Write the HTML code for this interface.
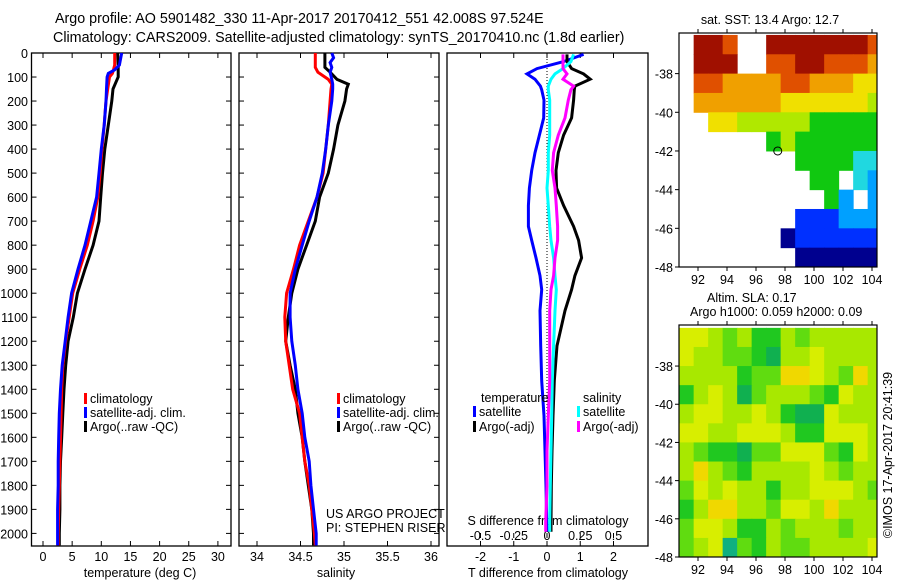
<!DOCTYPE html>
<html><head><meta charset="utf-8"><style>
body{margin:0;background:#fff}
svg{display:block;font-family:"Liberation Sans",sans-serif;font-size:12.5px}
.big{font-size:14.3px}
</style></head><body>
<svg id="c" width="900" height="580" viewBox="0 0 900 580">
<text class="big" x="55" y="23">Argo profile: AO 5901482_330 11-Apr-2017 20170412_551 42.008S 97.524E</text>
<text class="big" x="53" y="42">Climatology: CARS2009. Satellite-adjusted climatology: synTS_20170410.nc (1.8d earlier)</text>
<g id="g"></g>
</svg>
<script>
const depthT=[0,50,70,85,100,150,200,300,400,500,600,700,800,900,1000,1100,1200,1300,1400,1500,1600,1700,1800,1900,2000,2050];
const tempArgo=[12.8,12.9,12.9,12.9,12.9,12.0,11.8,11.2,10.6,10.2,9.9,9.6,8.6,7.2,5.9,5.2,4.3,3.9,3.6,3.4,3.2,3.0,2.9,2.9,2.8,2.8];
const tempClim=[12.3,12.3,12.1,11.9,11.4,11.1,10.8,10.5,10.1,9.8,9.4,8.6,7.6,6.3,5.1,4.5,3.9,3.4,3.2,3.1,3.0,2.9,2.8,2.7,2.6,2.6];
const tempSat=[13.5,13.1,12.3,11.2,11.0,10.9,10.8,10.5,10.0,9.6,9.2,8.2,7.2,6.0,4.9,4.3,3.8,3.3,3.0,2.8,2.7,2.6,2.6,2.5,2.5,2.5];
const depthS=[0,20,40,60,80,110,130,150,200,300,400,500,600,700,800,900,1000,1100,1200,1300,1400,1500,1600,1700,1800,1900,2000,2050];
const salArgo=[34.78,34.78,34.78,34.78,34.84,34.92,35.05,35.03,35.01,34.93,34.88,34.82,34.72,34.67,34.57,34.47,34.40,34.36,34.33,34.38,34.44,34.47,34.52,34.55,34.59,34.63,34.65,34.65];
const salClim=[34.67,34.67,34.67,34.67,34.70,34.82,34.86,34.85,34.84,34.82,34.79,34.76,34.69,34.59,34.49,34.42,34.34,34.32,34.33,34.37,34.41,34.49,34.52,34.55,34.60,34.63,34.66,34.67];
const salSat=[34.86,34.88,34.84,34.86,34.84,34.86,34.87,34.87,34.86,34.82,34.79,34.75,34.69,34.60,34.52,34.44,34.38,34.38,34.40,34.44,34.47,34.52,34.55,34.60,34.62,34.65,34.68,34.68];
const depthD=[6,36,65,87,109,138,153,196,270,342,415,489,562,635,722,780,853,927,985,1073,1219,1365,1511,1657,1803,1949,1993];
const dTsat=[1.1,0.5,-0.3,-0.6,-0.36,-0.2,-0.16,-0.09,-0.1,-0.23,-0.36,-0.46,-0.53,-0.56,-0.56,-0.46,-0.33,-0.21,-0.16,-0.21,-0.19,-0.16,-0.09,-0.06,-0.03,-0.01,0];
const dTargo=[0.6,0.6,0.74,1.1,1.3,0.84,0.82,0.8,0.74,0.5,0.34,0.27,0.29,0.5,0.8,0.95,1.04,0.84,0.74,0.54,0.3,0.22,0.18,0.15,0.13,0.12,0.12];
const dSsat=[0.2,0.18,0.12,0.06,0.03,0.01,0.01,0.02,0.02,0.02,0.01,0.01,0.0,0.01,0.02,0.03,0.05,0.06,0.07,0.06,0.05,0.04,0.035,0.03,0.025,0.02,0.02];
const dSargo=[0.12,0.12,0.12,0.15,0.12,0.2,0.18,0.16,0.135,0.085,0.05,0.04,0.06,0.07,0.08,0.08,0.06,0.05,0.03,0.02,0.02,0.02,0.01,0.0,0.0,-0.01,-0.01];
const depthTicks=[0,100,200,300,400,500,600,700,800,900,1000,1100,1200,1300,1400,1500,1600,1700,1800,1900,2000];
const tempTicks=[0,5,10,15,20,25,30];
const salTicks=[34,34.5,35,35.5,36];
const dTTicks=[-2,-1,0,1,2];
const dSTicks=[-0.5,-0.25,0,0.25,0.5];
const dSLabels=["-0.5","-0.25","0","0.25","0.5"];
const lonTicks=[92,94,96,98,100,102,104];
const latTicks=[-38,-40,-42,-44,-46,-48];
// SST map classes (0 navy .. 9 dark red, '.' missing), rows lat -36..-48, cols lon 90.7..
const sstRows=[".998..99999998",".999..88998887",".8877778877766",".7777776666665","..665555544444","......45444444","........444433",".........44.32","..........42.2","........111222",".......0111111","........000000"];
const slaRows=["66545335455555","65544325565555","55553447765475","35652455543655","56655653226555","66556665336665","54332446664365","57543555565455","46565535566654","35775546657555","46653354555455","45614354455556"];
const sstPalette=["#00008f","#0030ff","#00a0ff","#20d8e0","#10c810","#b0e800","#f0e000","#f0a000","#e05000","#a01000"];
const slaPalette=["#00c8c8","#10b080","#10b050","#20c820","#60dc10","#a8e800","#d8ee00","#f0d800","#f0c000"];

const NS='http://www.w3.org/2000/svg';
const G=document.getElementById('g');
function mk(t,a,p){const e=document.createElementNS(NS,t);for(const k in a)e.setAttribute(k,a[k]);(p||G).appendChild(e);return e;}
const Y0=53,YS=0.2402,YB=546;
const yD=d=>Y0+YS*d;
function panel(x0,x1,name,yt){
  const r=mk('rect',{x:x0,y:Y0,width:x1-x0,height:YB-Y0,fill:'none',stroke:'#000','stroke-width':1.3});
  
  
  if(yt){depthTicks.forEach(d=>{const y=yD(d);mk('line',{x1:x0,x2:x0+5,y1:y,y2:y,stroke:'#000'});mk('line',{x1:x1-5,x2:x1,y1:y,y2:y,stroke:'#000'});});}
}
function line(xs,ds,fx,col,name,w){
  const p=xs.map((v,i)=>(i?'L':'M')+fx(v).toFixed(1)+' '+yD(ds[i]).toFixed(1)).join('');
  const e=mk('path',{d:p,fill:'none',stroke:col,'stroke-width':w||3});
  
  
}
function txt(x,y,s,anchor,name,cls){const e=mk('text',{x:x,y:y,'text-anchor':anchor||'start'});e.textContent=s;
  if(cls)e.setAttribute('class',cls);
  
  return e;}
function xticks(vals,fx,y,labels,name){vals.forEach((v,i)=>{const x=fx(v);mk('line',{x1:x,x2:x,y1:YB-5,y2:YB,stroke:'#000'});mk('line',{x1:x,x2:x,y1:Y0,y2:Y0+5,stroke:'#000'});
  txt(x,y,labels?labels[i]:String(v),'middle',name);});}
depthTicks.forEach(d=>txt(28,yD(d)+5,String(d),'end','depth-tick-label'));
const fT=v=>43+5.83*v;
panel(31.5,231,'temperature-panel',true);
xticks(tempTicks,fT,561,null,'temperature-tick-label');
txt(140,577,'temperature (deg C)','middle','temperature-axis-title');
line(tempArgo,depthT,fT,'#000','temp-argo-line');
line(tempClim,depthT,fT,'#f00','temp-climatology-line');
line(tempSat,depthT,fT,'#00f','temp-satellite-line');
const fS=v=>257+87*(v-34);
panel(239,439,'salinity-panel',true);
xticks(salTicks,fS,561,null,'salinity-tick-label');
txt(336,577,'salinity','middle','salinity-axis-title');
line(salArgo,depthS,fS,'#000','sal-argo-line');
line(salClim,depthS,fS,'#f00','sal-climatology-line');
line(salSat,depthS,fS,'#00f','sal-satellite-line');
function leg(x,y,col,s,name){const r=mk('rect',{x:x,y:y-10,width:3,height:11,fill:col});txt(x+6,y,s,'start',name);}
[[84,'#f00','climatology'],[84,'#00f','satellite-adj. clim.'],[84,'#000','Argo(..raw -QC)']].forEach((a,i)=>leg(a[0],403+i*14,a[1],a[2],'temp-legend-entry'));
[[337,'#f00','climatology'],[337,'#00f','satellite-adj. clim.'],[337,'#000','Argo(..raw -QC)']].forEach((a,i)=>leg(a[0],403+i*14,a[1],a[2],'sal-legend-entry'));
txt(326,518,'US ARGO PROJECT','start','project-credit');
txt(326,532,'PI: STEPHEN RISER','start','pi-credit');
const fdT=v=>547+33.25*v, fdS=v=>547+133*v;
panel(447,648,'difference-panel',false);
xticks(dTTicks,fdT,561,null,'t-diff-tick-label');
dSTicks.forEach((v,i)=>{const x=fdS(v);mk('line',{x1:x,x2:x,y1:533,y2:538,stroke:'#000'});txt(x,540,dSLabels[i],'middle','s-diff-tick-label');});
txt(548,525,'S difference from climatology','middle','s-diff-axis-title');
txt(548,577,'T difference from climatology','middle','t-diff-axis-title');
mk('line',{x1:547,x2:547,y1:Y0,y2:YB,stroke:'#000','stroke-dasharray':'1,2'});
line(dTsat,depthD,fdT,'#00f','t-diff-satellite-line');
line(dTargo,depthD,fdT,'#000','t-diff-argo-line');
line(dSsat,depthD,fdS,'#0ff','s-diff-satellite-line');
line(dSargo,depthD,fdS,'#f0f','s-diff-argo-line');
txt(481,402,'temperature','start','diff-legend-heading-temperature');
txt(583,402,'salinity','start','diff-legend-heading-salinity');
leg(473,416,'#00f','satellite','diff-legend-t-satellite');
leg(473,431,'#000','Argo(-adj)','diff-legend-t-argo');
leg(577,416,'#0ff','satellite','diff-legend-s-satellite');
leg(577,431,'#f0f','Argo(-adj)','diff-legend-s-argo');
function map(y0,y1,rows,cf,name,latTop){
  const x0=679,x1=877,lx=v=>698+14.5*(v-92),ly=v=>y1-(y1-y0)*(v+48)/(latTop+48);
  const g=mk('g',{});
  rows.forEach((row,r)=>{for(let c=0;c<row.length;c++){const ch=row[c];if(ch==='.')continue;
    const xa=Math.max(x0,lx(90.7+c)),xb=Math.min(x1,lx(91.7+c)),ya=Math.max(y0,ly(-36-r)),yb=ly(-37-r);
    mk('rect',{x:xa,y:ya,width:xb-xa+0.5,height:yb-ya+0.5,fill:cf(+ch)},g);}});
  mk('rect',{x:x0,y:y0,width:x1-x0,height:y1-y0,fill:'none',stroke:'#000','stroke-width':1.2});
  latTicks.forEach(v=>{const y=ly(v);mk('line',{x1:x0-4,x2:x0,y1:y,y2:y,stroke:'#000'});txt(673,y+5,String(v),'end','lat-tick-label');});
  lonTicks.forEach(v=>{const x=lx(v);mk('line',{x1:x,x2:x,y1:y1,y2:y1+4,stroke:'#000'});mk('line',{x1:x,x2:x,y1:y0-4,y2:y0,stroke:'#000'});txt(x,y1+17,String(v),'middle','lon-tick-label');});
  return {lx,ly};
}
const m1=map(33,267,sstRows,k=>sstPalette[k],'sst-map',-35.9);
const mk1=mk('circle',{cx:m1.lx(97.5),cy:m1.ly(-42),r:4,fill:'none',stroke:'#000','stroke-width':1});


map(325,557,slaRows,k=>slaPalette[k],'sla-map',-35.85);
txt(770,24,'sat. SST: 13.4  Argo: 12.7','middle','sst-map-title');
txt(707,302,'Altim. SLA: 0.17','start','sla-map-title');
txt(690,316,'Argo h1000: 0.059 h2000: 0.09','start','sla-map-subtitle');
const cr=txt(0,0,'©IMOS 17-Apr-2017 20:41:39','middle','timestamp-credit');
cr.setAttribute('transform','translate(892,455) rotate(-90)');
</script>
</body></html>
